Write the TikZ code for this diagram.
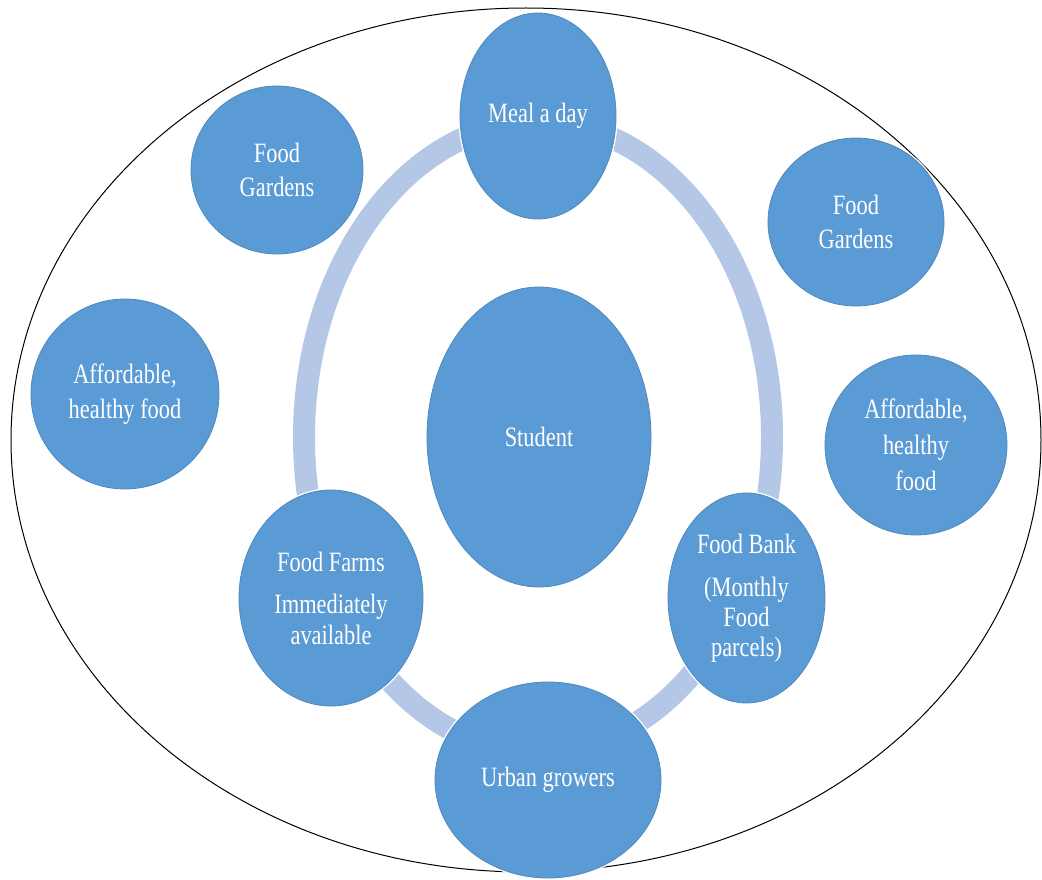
\documentclass[tikz,border=0pt]{standalone}
\usepackage{fontspec}
\setmainfont{Liberation Serif}[FakeStretch=0.8]
\usetikzlibrary{shapes.geometric}
\definecolor{nodeblue}{HTML}{5B9BD5}
\definecolor{nodeedge}{HTML}{4F88BD}
\definecolor{ringblue}{HTML}{B4C7E7}
\begin{document}
\begin{tikzpicture}[x=1pt,y=-1pt,
  bub/.style={ellipse, fill=nodeblue, draw=nodeedge, line width=0.8pt, inner sep=0pt,
    align=center, text=white, font=\fontsize{28}{34}\selectfont,
    preaction={draw=white, line width=3.5pt}},
  outline/.style={draw=black, line width=1pt},
  ringband/.style={draw=ringblue, line width=22pt}]
\useasboundingbox (0,0) rectangle (1042,880);
\fill[white] (0,0) rectangle (1042,880);
\draw[outline] (526,440) ellipse [x radius=515pt, y radius=432pt];
\draw[ringband] (538,437) ellipse [x radius=234pt, y radius=315pt];
\node[bub, minimum width=156pt, minimum height=206pt] (meal) at (538,116) {Meal a day};
\node[bub, minimum width=172pt, minimum height=168pt] (fgl) at (277,170) {Food\\Gardens};
\node[bub, minimum width=176pt, minimum height=168pt] (fgr) at (856,222) {Food\\Gardens};
\node[bub, minimum width=188pt, minimum height=190pt, font=\fontsize{28}{35}\selectfont] (afl) at (125,394) {Affordable,\\healthy food};
\node[bub, minimum width=182pt, minimum height=180pt, font=\fontsize{28}{36}\selectfont] (afr) at (916,445) {Affordable,\\healthy\\food};
\node[bub, minimum width=224pt, minimum height=300pt] (student) at (539,437) {Student};
\node[bub, minimum width=184pt, minimum height=216pt, font=\fontsize{28}{31}\selectfont] (farms) at (331,598) {Food Farms\\[11pt]Immediately\\available};
\node[bub, minimum width=157pt, minimum height=210pt, font=\fontsize{28}{30}\selectfont] (bank) at (746.5,598) {Food Bank\\[13pt](Monthly\\Food\\parcels)};
\node[bub, minimum width=226pt, minimum height=196pt] (urban) at (548,780) {Urban growers};
\end{tikzpicture}
\end{document}
